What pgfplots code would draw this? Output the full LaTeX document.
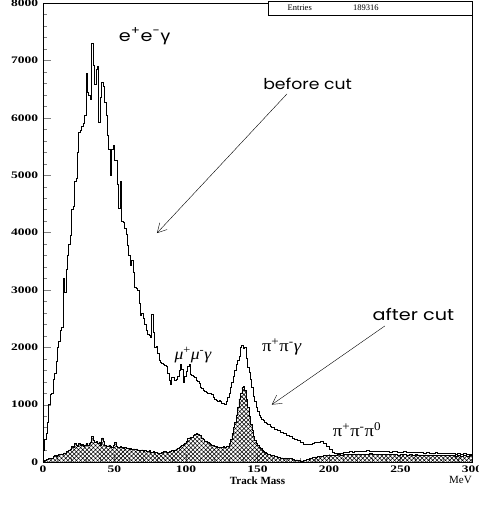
\documentclass[border=0pt]{standalone}
\usepackage{fontspec}
\setmainfont{Liberation Serif}
\newfontfamily\gothic{Poppins}
\newfontfamily\lsans{Liberation Sans}
\usepackage{pgfplots}
\pgfplotsset{compat=1.18}
\usetikzlibrary{patterns.meta,arrows.meta}

% value at the left edge of each bin (1 MeV bins below 160, 2 MeV above)
\def\before{
(0,200)(1,400)(2,500)(3,700)(4,1000)(5,1180)(6,1200)(7,1450)(8,1550)(9,1750)
(10,2000)(11,2100)(12,2300)(13,2350)(14,3200)(15,2950)(16,3350)(17,3600)(18,3800)(19,3950)
(20,4400)(21,4450)(22,4900)(23,4950)(24,5400)(25,5750)(26,5780)(27,5850)(28,5900)(29,6050)
(30,6770)(31,6450)(32,6400)(33,6320)(34,7290)(35,6920)(36,6580)(37,6850)(38,6900)(39,5920)
(40,6360)(41,6620)(42,6540)(43,6270)(44,6040)(45,5690)(46,5450)(47,4990)(48,5450)(49,5520)
(50,5250)(51,5250)(52,4840)(53,4430)(54,4900)(55,4200)(56,4180)(57,4080)(58,3960)(59,3780)
(60,3600)(61,3430)(62,3510)(63,3300)(64,3050)(65,3020)(66,2990)(67,2760)(68,2550)(69,2600)
(70,2500)(71,2400)(72,2290)(73,2230)(74,2200)(75,2180)(76,2580)(77,2260)(78,2000)(79,2010)
(80,1900)(81,1780)(82,1740)(83,1720)(84,1700)(85,1680)(86,1670)(87,1550)(88,1420)(89,1350)
(90,1480)(91,1470)(92,1420)(93,1440)(94,1500)(95,1600)(96,1700)(97,1620)(98,1390)(99,1500)
(100,1580)(101,1670)(102,1700)(103,1530)(104,1510)(105,1500)(106,1480)(107,1420)(108,1410)(109,1380)
(110,1300)(111,1280)(112,1250)(113,1230)(114,1220)(115,1200)(116,1200)(117,1190)(118,1180)(119,1120)
(120,1100)(121,1080)(122,1060)(123,1070)(124,1060)(125,1030)(126,1020)(127,1000)(128,1050)(129,1120)
(130,1200)(131,1300)(132,1390)(133,1500)(134,1600)(135,1700)(136,1780)(137,1850)(138,2000)(139,2030)
(140,1980)(141,2000)(142,1800)(143,1650)(144,1560)(145,1440)(146,1300)(147,1150)(148,1050)(149,950)
(150,880)(151,820)(152,780)(153,740)(154,720)(155,700)(156,680)(157,665)(158,650)(159,630)
(160,610)(162,570)(164,550)(166,520)(168,500)(170,470)(172,450)(174,420)(176,400)(178,370)
(180,340)(182,310)(184,300)(186,300)(188,320)(190,340)(192,350)(194,360)(196,330)(198,280)
(200,220)(202,170)(204,150)(206,150)(208,160)(210,175)(212,170)(214,180)(216,175)(218,185)
(220,180)(222,190)(224,185)(226,200)(228,190)(230,185)(232,195)(234,180)(236,190)(238,185)
(240,180)(242,175)(244,185)(246,180)(248,170)(250,175)(252,180)(254,170)(256,165)(258,175)
(260,170)(262,165)(264,170)(266,160)(268,165)(270,160)(272,155)(274,165)(276,150)(278,155)
(280,160)(282,150)(284,145)(286,150)(288,140)(290,145)(292,135)(294,150)(296,130)(298,140)
(300,140)}

\def\after{
(0,20)(1,30)(2,40)(3,50)(4,60)(5,70)(6,60)(7,100)(8,120)(9,100)
(10,120)(11,130)(12,140)(13,140)(14,150)(15,160)(16,180)(17,190)(18,210)(19,230)
(20,270)(21,250)(22,320)(23,300)(24,280)(25,320)(26,290)(27,310)(28,280)(29,300)
(30,320)(31,290)(32,330)(33,350)(34,450)(35,380)(36,340)(37,360)(38,330)(39,350)
(40,300)(41,420)(42,360)(43,300)(44,270)(45,280)(46,300)(47,280)(48,260)(49,290)
(50,340)(51,280)(52,250)(53,260)(54,270)(55,250)(56,240)(57,250)(58,245)(59,240)
(60,230)(61,235)(62,220)(63,230)(64,225)(65,230)(66,210)(67,200)(68,205)(69,210)
(70,190)(71,200)(72,180)(73,185)(74,200)(75,175)(76,170)(77,180)(78,175)(79,165)
(80,160)(81,150)(82,155)(83,170)(84,190)(85,180)(86,170)(87,175)(88,180)(89,190)
(90,200)(91,190)(92,210)(93,230)(94,240)(95,260)(96,280)(97,300)(98,310)(99,330)
(100,370)(101,410)(102,420)(103,440)(104,430)(105,460)(106,480)(107,500)(108,490)(109,470)
(110,460)(111,420)(112,400)(113,370)(114,360)(115,340)(116,330)(117,310)(118,300)(119,290)
(120,280)(121,270)(122,260)(123,250)(124,250)(125,260)(126,270)(127,260)(128,270)(129,280)
(130,320)(131,400)(132,500)(133,600)(134,700)(135,820)(136,950)(137,1100)(138,1200)(139,1300)
(140,1320)(141,1250)(142,1100)(143,950)(144,800)(145,650)(146,560)(147,450)(148,380)(149,330)
(150,290)(151,260)(152,240)(153,210)(154,190)(155,170)(156,160)(157,140)(158,130)(159,120)
(160,110)(162,100)(164,85)(166,70)(168,70)(170,60)(172,60)(174,50)(176,35)(178,25)
(180,20)(182,25)(184,40)(186,60)(188,80)(190,90)(192,100)(194,100)(196,110)(198,120)
(200,120)(202,120)(204,125)(206,130)(208,125)(210,130)(212,135)(214,130)(216,140)(218,135)
(220,140)(222,130)(224,140)(226,135)(228,145)(230,140)(232,135)(234,130)(236,140)(238,135)
(240,130)(242,140)(244,130)(246,135)(248,125)(250,130)(252,135)(254,125)(256,130)(258,120)
(260,130)(262,125)(264,120)(266,125)(268,115)(270,120)(272,125)(274,115)(276,120)(278,110)
(280,115)(282,120)(284,110)(286,115)(288,105)(290,110)(292,100)(294,115)(296,100)(298,110)
(300,110)}

\begin{document}
\begin{tikzpicture}
\begin{axis}[
  at={(0,0)}, anchor=south west,
  scale only axis, width=429pt, height=459pt,
  xmin=0, xmax=300, ymin=0, ymax=8000,
  xtick={0,50,...,300}, ytick={0,1000,...,8000},
  minor x tick num=4, minor y tick num=4,
  xtick pos=bottom, ytick pos=left, tick align=inside,
  major tick length=8pt, minor tick length=4pt,
  scaled y ticks=false,
  /pgf/number format/assume math mode=true,
  /pgf/number format/1000 sep={},
  tick label style={font=\bfseries\fontsize{10}{10}\selectfont, xscale=1.35},
  xlabel={\bfseries Track Mass},
  xlabel style={font=\fontsize{11}{11}\selectfont, yshift=2pt},
  axis line style={line width=0.8pt},
  clip=false,
]
\addplot[const plot mark left, draw=black, line width=0.5pt,
  pattern={Hatch[angle=45,distance=3pt,line width=0.55pt]}]
  coordinates {\after} \closedcycle;
\addplot[const plot mark left, black, line width=0.6pt] coordinates {\before};

\node[font=\gothic\fontsize{16}{16}\selectfont, xscale=1.2] at (axis cs:71,7420)
  {e\textsuperscript{+}e\textsuperscript{-}{\lsans γ}};
\node[font=\gothic\fontsize{15}{15}\selectfont, xscale=1.15] at (axis cs:185,6590) {before cut};
\node[font=\gothic\fontsize{16}{16}\selectfont, xscale=1.2] at (axis cs:259,2580) {after cut};
\draw[-{Straight Barb[length=9pt,width=10pt]}, line width=0.4pt]
  (axis cs:170.6,6415) -- (axis cs:79.7,3990);
\draw[-{Straight Barb[length=9pt,width=10pt]}, line width=0.4pt]
  (axis cs:239,2370) -- (axis cs:160,1000);
\node[font=\fontsize{16}{16}\selectfont, xscale=1.1] at (axis cs:105,1860)
  {\textit{μ}\textsuperscript{+}\textit{μ}\textsuperscript{-}\textit{γ}};
\node[font=\fontsize{17}{17}\selectfont, xscale=1.1] at (axis cs:167,2010)
  {π\textsuperscript{+}π\textsuperscript{-}\textit{γ}};
\node[font=\fontsize{17}{17}\selectfont, xscale=1.1] at (axis cs:219.6,570)
  {π\textsuperscript{+}π\textsuperscript{-}π\textsuperscript{0}};
\node[font=\fontsize{11}{11}\selectfont, anchor=north east, inner sep=0pt]
  at ([yshift=-14pt]rel axis cs:1,0) {MeV};
\draw[line width=0.6pt, fill=white] ([yshift=2pt]rel axis cs:0.5245,1) rectangle ([yshift=-12pt]rel axis cs:1,1);
\node[font=\fontsize{8.5}{8.5}\selectfont, anchor=west, inner sep=0pt] at ([yshift=-5pt]rel axis cs:0.57,1) {Entries};
\node[font=\fontsize{8.5}{8.5}\selectfont, anchor=west, inner sep=0pt] at ([yshift=-5pt]rel axis cs:0.7225,1) {189316};
\end{axis}
\pgfresetboundingbox
\path (-43pt,-45pt) rectangle (436pt,462pt);
\end{tikzpicture}
\end{document}
